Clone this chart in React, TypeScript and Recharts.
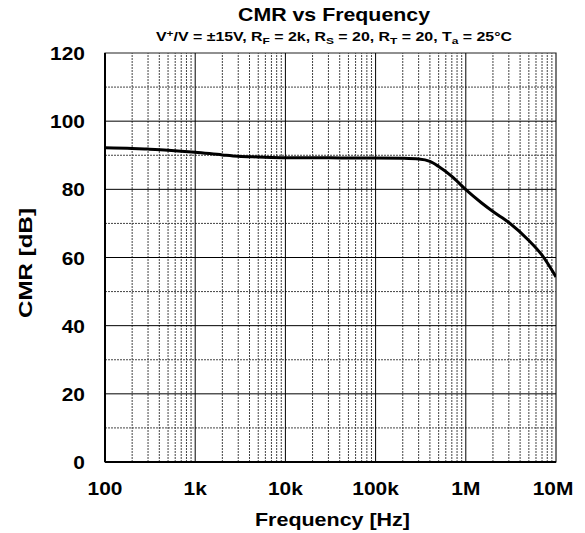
import React from "react";
import { LineChart, Line, XAxis, YAxis, ReferenceLine, ReferenceArea } from "recharts";

const freqHz = [100, 200, 300, 500, 1000, 2000, 3000, 5000, 10000, 20000, 50000, 100000, 200000, 300000, 400000, 500000, 700000, 1000000, 1500000, 2000000, 3000000, 5000000, 7000000, 10000000];
const cmrDb = [92.2, 92.0, 91.8, 91.5, 90.9, 90.1, 89.7, 89.5, 89.3, 89.3, 89.2, 89.2, 89.1, 88.9, 88.2, 86.7, 83.8, 79.9, 76.0, 73.5, 70.3, 65.0, 60.7, 54.3];

const xTicks = [100, 1000, 10000, 100000, 1000000, 10000000];
const xTickLabels = ["100", "1k", "10k", "100k", "1M", "10M"];
const yTicks = [0, 20, 40, 60, 80, 100, 120];
const yMinor = [10, 30, 50, 70, 90, 110];
const minorMultipliers = [2, 3, 4, 5, 6, 7, 8, 9];

const data = freqHz.map((f, i) => ({ f, cmr: cmrDb[i] }));

const xMinor: number[] = [];
for (let d = 0; d < xTicks.length - 1; d++) {
  for (const m of minorMultipliers) xMinor.push(xTicks[d] * m);
}

const FONT = "'Liberation Sans', Arial, sans-serif";

const XTick = (props: any) => {
  const { x, y, payload } = props;
  const label = xTickLabels[xTicks.indexOf(payload.value)] ?? String(payload.value);
  return (
    <text
      transform={`translate(${x},${y + 33}) scale(1.1,1)`}
      textAnchor="middle"
      fontSize={19}
      fontWeight="bold"
      fontFamily={FONT}
      fill="#000"
    >
      {label}
    </text>
  );
};

const YTick = (props: any) => {
  const { x, y, payload } = props;
  return (
    <text
      transform={`translate(${x - 20},${y + 7}) scale(1.1,1)`}
      textAnchor="end"
      fontSize={19}
      fontWeight="bold"
      fontFamily={FONT}
      fill="#000"
    >
      {payload.value}
    </text>
  );
};

export default function App() {
  return (
    <div style={{ position: "absolute", left: 0, top: 0, width: 585, height: 533, background: "#fff" }}>
      <LineChart
        width={585}
        height={533}
        data={data}
        margin={{ top: 53, right: 29, bottom: 31, left: 45 }}
      >
        <XAxis
          dataKey="f"
          type="number"
          scale="log"
          domain={[100, 10000000]}
          ticks={xTicks}
          height={40}
          tickLine={false}
          tickSize={0}
          tickMargin={0}
          axisLine={false}
          tick={<XTick />}
          allowDataOverflow
        />
        <YAxis
          type="number"
          domain={[0, 120]}
          ticks={yTicks}
          width={60}
          tickLine={false}
          tickSize={0}
          tickMargin={0}
          axisLine={false}
          tick={<YTick />}
        />
        {yMinor.map((v) => (
          <ReferenceLine key={"ym" + v} y={v} stroke="#444" strokeWidth={1} strokeDasharray="2 1" />
        ))}
        {xMinor.map((v) => (
          <ReferenceLine key={"xm" + v} x={v} stroke="#444" strokeWidth={1} strokeDasharray="2 1" />
        ))}
        {yTicks.slice(1, -1).map((v) => (
          <ReferenceLine key={"yM" + v} y={v} stroke="#000" strokeWidth={1} />
        ))}
        {xTicks.slice(1, -1).map((v) => (
          <ReferenceLine key={"xM" + v} x={v} stroke="#000" strokeWidth={1} />
        ))}
        <ReferenceArea
          x1={100}
          x2={10000000}
          y1={0}
          y2={120}
          fill="none"
          fillOpacity={0}
          stroke="#222"
          strokeWidth={1.2}
          ifOverflow="visible"
        />
        <ReferenceLine y={0} stroke="#000" strokeWidth={2} ifOverflow="visible" />
        <ReferenceLine x={100} stroke="#000" strokeWidth={2} ifOverflow="visible" />
        <Line
          type="monotone"
          dataKey="cmr"
          stroke="#000"
          strokeWidth={3}
          dot={false}
          isAnimationActive={false}
        />
      </LineChart>
      <svg
        width={585}
        height={533}
        style={{ position: "absolute", left: 0, top: 0, pointerEvents: "none" }}
        fontFamily={FONT}
        fontWeight="bold"
      >
        <text x={334} y={21} textAnchor="middle" fontSize={19} fill="#000" textLength={192} lengthAdjust="spacingAndGlyphs">CMR vs Frequency</text>
        <text x={334} y={41} textAnchor="middle" fontSize={12} fill="#000" textLength={356} lengthAdjust="spacingAndGlyphs">
          V<tspan dy={-4} fontSize={9}>+</tspan><tspan dy={4}>/V = ±15V, R</tspan>
          <tspan dy={3} fontSize={9}>F</tspan><tspan dy={-3}> = 2k, R</tspan>
          <tspan dy={3} fontSize={9}>S</tspan><tspan dy={-3}> = 20, R</tspan>
          <tspan dy={3} fontSize={9}>T</tspan><tspan dy={-3}> = 20, T</tspan>
          <tspan dy={3} fontSize={9}>a</tspan><tspan dy={-3}> = 25°C</tspan>
        </text>
        <text x={332.5} y={526} textAnchor="middle" fontSize={18.5} fill="#000" textLength={155} lengthAdjust="spacingAndGlyphs">Frequency [Hz]</text>
        <text x={0} y={0} textAnchor="middle" fontSize={18.5} fill="#000" transform="translate(32,263) rotate(-90)" textLength={110} lengthAdjust="spacingAndGlyphs">CMR [dB]</text>
      </svg>
    </div>
  );
}
